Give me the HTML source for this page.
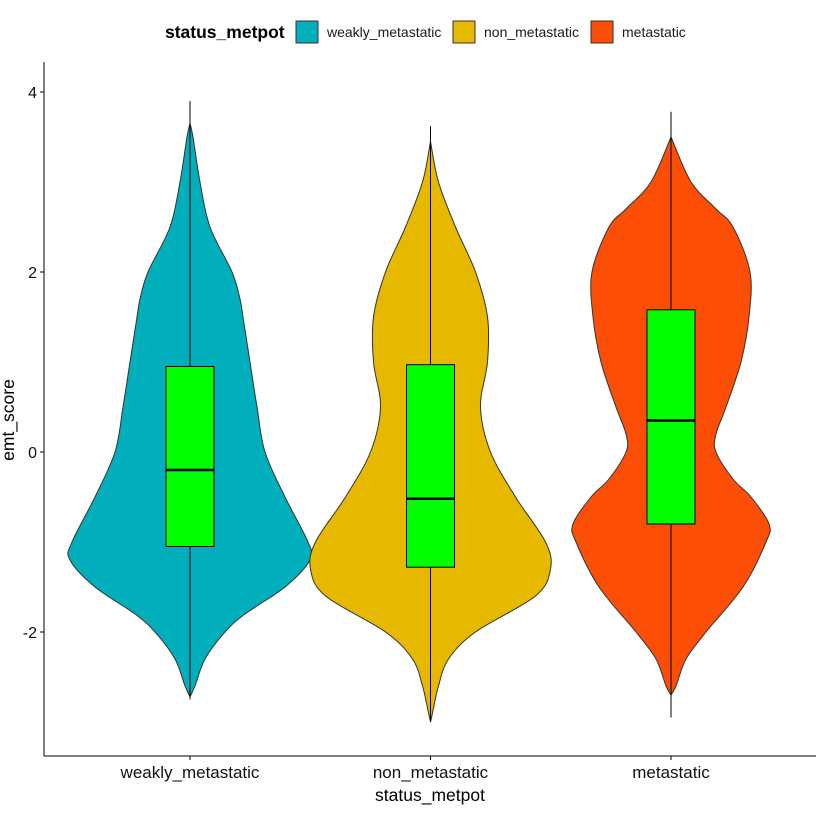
<!DOCTYPE html>
<html><head><meta charset="utf-8"><style>
body{margin:0;background:#fff;}
svg text{font-family:"Liberation Sans",sans-serif;}
</style></head><body>
<svg id="chart" width="819" height="812">
<g>
<text x="165" y="38" font-size="17.5" font-weight="bold" fill="#000">status_metpot</text>
<rect x="296" y="21" width="22" height="22" fill="#00AFBB" stroke="#333"/>
<text x="327" y="37" font-size="14" fill="#1a1a1a">weakly_metastatic</text>
<rect x="453" y="21" width="22" height="22" fill="#E7B800" stroke="#333"/>
<text x="484" y="37" font-size="14" fill="#1a1a1a">non_metastatic</text>
<rect x="591" y="21" width="22" height="22" fill="#FC4E07" stroke="#333"/>
<text x="622" y="37" font-size="14" fill="#1a1a1a">metastatic</text>
</g>
<g id="plot"></g>
<line x1="44" y1="62" x2="44" y2="756" stroke="#000"/>
<line x1="44" y1="756" x2="816" y2="756" stroke="#000"/>
<text x="14" y="420" font-size="17.5" text-anchor="middle" transform="rotate(-90 14 420)">emt_score</text>
<text x="430" y="801" font-size="17.5" text-anchor="middle">status_metpot</text>
</svg>
<script>
const categories=["weakly_metastatic","non_metastatic","metastatic"];
const colors=["#00AFBB","#E7B800","#FC4E07"];
const yTicks=[-2,0,2,4];
const violinY=[
[3.65,3.5,3.0,2.5,2.0,1.7,1.5,1.0,0.5,0.0,-0.5,-1.0,-1.2,-1.5,-1.8,-2.0,-2.3,-2.6,-2.72],
[3.45,3.0,2.5,2.0,1.5,1.0,0.5,0.0,-0.5,-1.0,-1.3,-1.6,-2.0,-2.3,-2.6,-2.9,-3.0],
[3.5,3.0,2.7,2.5,2.0,1.5,1.0,0.5,0.2,0.0,-0.3,-0.5,-0.8,-1.0,-1.5,-2.0,-2.3,-2.6,-2.7]];
const violinW=[
[0,3,10,20,42,50,53,60,67,75,95,118,120,95,55,35,15,5,0],
[0,8,25,45,57,57,50,60,85,115,120,105,45,18,8,2,0],
[0,20,45,62,79,78,70,55,45,45,62,80,98,95,72,35,15,5,0]];
const q1=[-1.05,-1.28,-0.8], med=[-0.2,-0.52,0.35], q3=[0.95,0.97,1.58];
const whLo=[-1.95,-1.83,-1.95], whHi=[3.9,2.45,2.78];
const extLo=[-2.75,-3.0,-2.95], extHi=[3.7,3.62,3.78];
const ns="http://www.w3.org/2000/svg";
const yS=v=>452-90*v, xS=i=>190+240.5*i, wS=w=>w;
const g=document.getElementById('plot');
function mk(t,a){const e=document.createElementNS(ns,t);for(const k in a)e.setAttribute(k,a[k]);g.appendChild(e);return e;}
function smooth(p){
 let d='M'+p[0][0]+','+p[0][1];
 for(let i=0;i<p.length-1;i++){
  const p0=p[Math.max(i-1,0)],p1=p[i],p2=p[i+1],p3=p[Math.min(i+2,p.length-1)];
  const c1=[p1[0]+(p2[0]-p0[0])/6,p1[1]+(p2[1]-p0[1])/6];
  const c2=[p2[0]-(p3[0]-p1[0])/6,p2[1]-(p3[1]-p1[1])/6];
  d+=' C'+c1.join(',')+' '+c2.join(',')+' '+p2.join(',');
 }
 return d;
}
yTicks.forEach(t=>{
 const l=mk('line',{x1:40,x2:44,y1:yS(t),y2:yS(t),stroke:'#000'});
 
 
 const tx=mk('text',{x:37,y:yS(t)+6,'font-size':16,'text-anchor':'end',fill:'#111'});tx.textContent=t;
 
 
});
categories.forEach((c,i)=>{
 const cx=xS(i);
 const right=violinY[i].map((y,j)=>[cx+wS(violinW[i][j]),yS(y)]);
 const left=violinY[i].map((y,j)=>[cx-wS(violinW[i][j]),yS(y)]).reverse();
 const d=smooth(right)+' L'+smooth(left).slice(1)+' Z';
 const v=mk('path',{d:d,fill:colors[i],stroke:'#333','stroke-width':1});
 
 
 const w=mk('line',{x1:cx,x2:cx,y1:yS(Math.max(whHi[i],extHi[i])),y2:yS(Math.min(whLo[i],extLo[i])),stroke:'#000'});
 
 
 const b=mk('rect',{x:cx-24,y:yS(q3[i]),width:48,height:yS(q1[i])-yS(q3[i]),fill:'#00FF00',stroke:'#000'});
 
 
 const m=mk('line',{x1:cx-24,x2:cx+24,y1:yS(med[i]),y2:yS(med[i]),stroke:'#000','stroke-width':2.5});
 
 
 const t=mk('line',{x1:cx,x2:cx,y1:756,y2:760,stroke:'#000'});
 
 
 const tx=mk('text',{x:cx,y:778,'font-size':17,'text-anchor':'middle',fill:'#111'});tx.textContent=c;
 
 
});
</script>
</body></html>
